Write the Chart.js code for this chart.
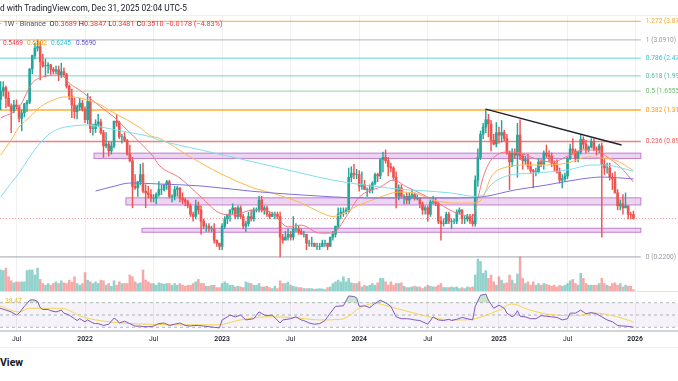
<!DOCTYPE html>
<html><head><meta charset="utf-8">
<script src="https://cdn.jsdelivr.net/npm/chart.js@4.4.1/dist/chart.umd.min.js"></script>
<style>
html,body{margin:0;padding:0;background:#fff;width:678px;height:381px;overflow:hidden;font-family:Roboto,"Liberation Sans",sans-serif;}
.pane{position:absolute;left:0;}
.t{position:absolute;white-space:nowrap;line-height:1;color:#131722;}
.r{color:#f23645;}
.hl{position:absolute;left:0;width:678px;}
</style></head><body>
<div class="pane" style="top:15px"><canvas id="cMain" width="678" height="277"></canvas></div>
<div class="pane" style="top:292px"><canvas id="cRsi" width="678" height="60"></canvas></div>

<div class="hl" style="top:15px;height:1px;background:#eef0f3"></div>
<div class="hl" style="top:291px;height:1px;background:#e0e3eb"></div>
<div class="hl" style="top:330px;height:2px;background:#d1d4dc"></div>
<div class="hl" style="top:347px;height:1px;background:#eef0f3"></div>

<div class="t" style="left:0;top:3.6px;font-size:8.3px">d with TradingView.com, Dec 31, 2025 02:04 UTC-5</div>
<div class="t" style="left:0;top:20.3px;font-size:7.3px"><span style="color:#50535e">· 1W · Binance</span>&nbsp; O<span class="r">0.3689</span> H<span class="r">0.3847</span> L<span class="r">0.3481</span> C<span class="r">0.3510</span> <span class="r">−0.0178 (−4.83%)</span></div>
<div class="t" style="left:3px;top:39.7px;font-size:6.5px;color:#f23645">0.5469</div>
<div class="t" style="left:27px;top:39.7px;font-size:6.5px;color:#ff9800">0.6302</div>
<div class="t" style="left:51px;top:39.7px;font-size:6.5px;color:#22c5d9">0.6245</div>
<div class="t" style="left:76px;top:39.7px;font-size:6.5px;color:#5d4fe0">0.5690</div>
<div class="t" style="left:5px;top:297.6px;font-size:6.7px;color:#f0c020">38.47</div>
<div class="t" style="left:0;top:358px;font-size:10.5px;font-weight:bold">View</div>

<script>
// ---------- time axis ----------
const tickPos    = [7, 33, 59, 85, 111, 137, 163, 190, 216, 241.6];
const tickLabels = ['Jul','2022','Jul','2023','Jul','2024','Jul','2025','Jul','2026'];

// ---------- weekly candles (ADA, 1W) ----------
const open = [2.05,1.50,1.66,1.73,1.52,1.38,1.30,1.40,1.37,1.19,
1.27,1.42,1.45,2.17,2.56,2.80,2.85,2.37,2.25,2.26,
2.28,2.16,2.11,2.15,2.02,2.10,2.03,1.76,1.56,1.40,
1.29,1.37,1.43,1.33,1.17,1.46,1.05,1.05,1.11,1.14,
1.00,0.85,0.87,0.80,0.85,1.15,1.13,0.95,0.95,0.91,
0.77,0.71,0.52,0.51,0.55,0.60,0.49,0.48,0.47,0.45,
0.45,0.47,0.50,0.50,0.53,0.55,0.46,0.46,0.50,0.51,
0.45,0.44,0.43,0.41,0.37,0.36,0.41,0.39,0.34,0.32,
0.32,0.31,0.31,0.27,0.26,0.25,0.32,0.35,0.37,0.39,
0.40,0.36,0.40,0.36,0.32,0.33,0.36,0.35,0.39,0.39,
0.44,0.39,0.40,0.37,0.36,0.37,0.37,0.36,0.28,0.27,
0.28,0.29,0.28,0.31,0.31,0.30,0.29,0.29,0.26,0.26,
0.26,0.25,0.25,0.25,0.26,0.26,0.25,0.28,0.29,0.32,
0.37,0.38,0.38,0.39,0.58,0.61,0.60,0.60,0.52,0.53,
0.50,0.50,0.50,0.54,0.60,0.59,0.72,0.74,0.71,0.66,
0.65,0.58,0.46,0.51,0.46,0.46,0.44,0.46,0.47,0.45,
0.45,0.42,0.39,0.40,0.37,0.43,0.43,0.42,0.34,0.33,
0.33,0.37,0.34,0.34,0.34,0.38,0.39,0.35,0.35,0.36,
0.34,0.33,0.56,0.74,0.98,1.07,1.17,1.11,0.91,0.87,
1.00,0.97,1.00,0.93,0.78,0.70,0.78,0.76,0.97,0.75,
0.71,0.72,0.66,0.63,0.62,0.62,0.70,0.68,0.78,0.76,
0.75,0.69,0.67,0.62,0.56,0.57,0.59,0.73,0.82,0.80,
0.73,0.79,0.92,0.87,0.81,0.84,0.90,0.82,0.81,0.85,
0.68,0.65,0.65,0.58,0.57,0.48,0.41,0.42,0.40,0.41,
0.37,0.3689];
const high = [2.20,1.86,1.86,1.76,1.64,1.42,1.48,1.49,1.40,1.32,
1.43,1.48,2.18,2.57,2.97,3.09,3.03,2.60,2.45,2.35,
2.30,2.21,2.25,2.25,2.33,2.20,2.06,1.79,1.70,1.52,
1.40,1.52,1.48,1.37,1.61,1.55,1.11,1.17,1.25,1.18,
1.03,1.00,0.90,0.89,1.15,1.25,1.15,0.98,1.00,0.92,
0.86,0.74,0.60,0.55,0.68,0.69,0.53,0.52,0.50,0.47,
0.48,0.55,0.53,0.53,0.56,0.56,0.47,0.52,0.52,0.51,
0.48,0.45,0.44,0.42,0.38,0.44,0.43,0.41,0.35,0.33,
0.33,0.32,0.33,0.27,0.26,0.33,0.36,0.37,0.39,0.42,
0.40,0.41,0.41,0.37,0.34,0.38,0.39,0.40,0.40,0.46,
0.46,0.41,0.41,0.38,0.38,0.38,0.38,0.38,0.29,0.30,
0.31,0.30,0.36,0.33,0.32,0.31,0.30,0.29,0.27,0.28,
0.26,0.26,0.26,0.27,0.27,0.26,0.28,0.30,0.32,0.40,
0.40,0.40,0.40,0.65,0.66,0.68,0.64,0.63,0.62,0.56,
0.51,0.53,0.55,0.61,0.61,0.73,0.79,0.81,0.74,0.69,
0.66,0.62,0.53,0.53,0.47,0.48,0.48,0.50,0.48,0.47,
0.45,0.43,0.41,0.41,0.44,0.46,0.45,0.43,0.36,0.35,
0.38,0.38,0.35,0.35,0.39,0.40,0.39,0.36,0.37,0.37,
0.37,0.59,0.82,1.02,1.12,1.33,1.25,1.16,0.98,1.13,
1.07,1.16,1.03,0.98,0.80,0.82,0.82,1.12,1.17,0.77,
0.75,0.77,0.70,0.64,0.65,0.73,0.72,0.80,0.86,0.80,
0.78,0.71,0.72,0.65,0.60,0.61,0.74,0.87,0.93,0.82,
0.80,0.98,0.95,0.91,0.85,0.93,0.93,0.84,0.87,0.88,
0.72,0.69,0.69,0.61,0.62,0.50,0.44,0.47,0.48,0.41,
0.38,0.3847];
const low = [1.33,1.32,1.56,1.35,1.38,1.00,1.27,1.33,1.14,1.02,
1.21,1.29,1.42,2.05,2.45,2.70,1.90,2.22,1.97,2.06,
2.03,2.05,2.05,1.88,1.95,1.98,1.72,1.50,1.20,1.19,
1.18,1.31,1.30,1.13,1.11,1.00,0.97,1.00,1.08,0.98,
0.74,0.83,0.75,0.77,0.83,1.08,0.93,0.88,0.90,0.76,
0.70,0.40,0.50,0.46,0.53,0.48,0.40,0.45,0.43,0.43,
0.42,0.46,0.47,0.49,0.50,0.45,0.43,0.44,0.46,0.43,
0.42,0.41,0.40,0.36,0.34,0.35,0.37,0.29,0.31,0.30,
0.30,0.30,0.26,0.25,0.24,0.24,0.31,0.33,0.34,0.37,
0.35,0.35,0.35,0.31,0.30,0.32,0.34,0.34,0.38,0.38,
0.38,0.37,0.36,0.35,0.36,0.35,0.35,0.22,0.26,0.27,
0.27,0.27,0.27,0.30,0.29,0.29,0.28,0.24,0.25,0.25,
0.25,0.24,0.24,0.25,0.25,0.24,0.25,0.27,0.28,0.31,
0.35,0.36,0.37,0.38,0.55,0.57,0.57,0.49,0.50,0.50,
0.46,0.48,0.48,0.53,0.55,0.57,0.62,0.69,0.59,0.62,
0.56,0.40,0.44,0.46,0.42,0.42,0.42,0.45,0.44,0.44,
0.40,0.37,0.37,0.34,0.36,0.42,0.41,0.33,0.27,0.32,
0.33,0.33,0.31,0.33,0.33,0.37,0.33,0.33,0.34,0.33,
0.32,0.32,0.52,0.72,0.93,1.00,0.95,0.80,0.86,0.84,
0.88,0.89,0.90,0.77,0.50,0.66,0.73,0.58,0.72,0.64,
0.68,0.64,0.61,0.51,0.59,0.61,0.66,0.64,0.74,0.70,
0.66,0.63,0.61,0.54,0.51,0.55,0.57,0.72,0.77,0.70,
0.70,0.77,0.82,0.78,0.79,0.83,0.80,0.76,0.78,0.28,
0.60,0.61,0.56,0.50,0.48,0.39,0.39,0.37,0.40,0.35,
0.35,0.3481];
const close = [1.50,1.66,1.73,1.52,1.38,1.30,1.40,1.37,1.19,1.27,
1.42,1.45,2.17,2.56,2.80,2.85,2.37,2.25,2.26,2.28,
2.16,2.11,2.15,2.02,2.10,2.03,1.76,1.56,1.40,1.29,
1.37,1.43,1.33,1.17,1.46,1.05,1.05,1.11,1.14,1.00,
0.85,0.87,0.80,0.85,1.15,1.13,0.95,0.95,0.91,0.77,
0.71,0.52,0.51,0.55,0.60,0.49,0.48,0.47,0.45,0.45,
0.47,0.50,0.50,0.53,0.55,0.46,0.46,0.50,0.51,0.45,
0.44,0.43,0.41,0.37,0.36,0.41,0.39,0.34,0.32,0.32,
0.31,0.31,0.27,0.26,0.25,0.32,0.35,0.37,0.39,0.40,
0.36,0.40,0.36,0.32,0.33,0.36,0.35,0.39,0.39,0.44,
0.39,0.40,0.37,0.36,0.37,0.37,0.36,0.28,0.27,0.28,
0.29,0.28,0.31,0.31,0.30,0.29,0.29,0.26,0.26,0.26,
0.25,0.25,0.25,0.26,0.26,0.25,0.28,0.29,0.32,0.37,
0.38,0.38,0.39,0.58,0.61,0.60,0.60,0.52,0.53,0.50,
0.50,0.50,0.54,0.60,0.59,0.72,0.74,0.71,0.66,0.65,
0.58,0.46,0.51,0.46,0.46,0.44,0.46,0.47,0.45,0.45,
0.42,0.39,0.40,0.37,0.43,0.43,0.42,0.34,0.33,0.33,
0.37,0.34,0.34,0.34,0.38,0.39,0.35,0.35,0.36,0.34,
0.33,0.56,0.74,0.98,1.07,1.17,1.11,0.91,0.87,1.00,
0.97,1.00,0.93,0.78,0.70,0.78,0.76,0.97,0.75,0.71,
0.72,0.66,0.63,0.62,0.62,0.70,0.68,0.78,0.76,0.75,
0.69,0.67,0.62,0.56,0.57,0.59,0.73,0.82,0.80,0.73,
0.79,0.92,0.87,0.81,0.84,0.90,0.82,0.81,0.85,0.68,
0.65,0.65,0.58,0.57,0.48,0.41,0.42,0.40,0.41,0.37,
0.3689,0.3510];
const volume = [75,65,63,70,45,33,27,30,29,30,
30,63,65,65,50,70,37,25,20,25,
20,25,30,25,33,27,25,35,29,45,
25,20,25,57,35,30,25,30,25,35,
33,20,25,17,33,20,30,25,25,25,
50,45,30,25,27,65,35,30,25,25,
20,27,25,23,25,25,20,25,20,25,
20,17,20,20,25,30,37,25,25,17,
17,20,20,13,13,25,30,25,20,20,
15,17,15,13,30,27,25,20,20,25,
15,15,17,13,10,17,10,33,25,25,
29,20,17,15,13,13,10,10,10,10,
8,9,10,9,7,13,15,25,30,35,
30,45,30,40,27,25,25,30,15,20,
17,20,25,20,27,40,40,30,20,30,
20,25,25,27,17,13,13,15,17,15,
15,10,15,20,17,15,15,20,25,13,
13,13,15,13,15,10,13,10,15,13,
15,50,97,90,55,63,40,50,30,20,
45,35,25,27,50,35,25,53,103,40,
25,30,20,30,20,25,20,25,23,20,
17,20,15,20,17,20,25,33,37,25,
20,55,40,25,20,20,20,20,25,40,
25,20,17,25,27,20,25,15,20,17,
17,7];

// ---------- moving averages [bar, price] ----------
const ema20 = [[1,1.195],[8,1.366],[13,1.83],[17,1.969],[22,2.017],[25,1.969],[27,1.83],[32,1.64],[39,1.366],[44,1.209],[49,1.032],[54,0.881],[59,0.743],[61,0.674],[69,0.575],[77,0.456],[84,0.376],[89,0.367],[97,0.39],[104,0.376],[110,0.317],[115,0.324],[122,0.294],[127,0.294],[132,0.358],[137,0.456],[145,0.516],[150,0.561],[155,0.516],[160,0.479],[165,0.44],[173,0.38],[180,0.36],[182,0.45],[184,0.58],[186,0.68],[188,0.74],[193,0.79],[198,0.78],[203,0.734],[210,0.699],[217,0.761],[222,0.809],[227,0.809],[231,0.743],[236,0.658],[241,0.548]];
const ema50 = [[1,0.761],[5,0.914],[8,1.071],[12,1.209],[16,1.366],[21,1.488],[25,1.543],[28,1.543],[34,1.488],[39,1.40],[44,1.27],[49,1.166],[54,1.058],[58,0.96],[61,0.936],[73,0.743],[84,0.611],[97,0.509],[104,0.479],[115,0.424],[122,0.38],[127,0.36],[137,0.414],[145,0.456],[152,0.485],[158,0.479],[165,0.44],[173,0.424],[181,0.424],[184,0.456],[187,0.582],[193,0.658],[200,0.674],[208,0.674],[216,0.691],[224,0.743],[229,0.734],[234,0.716],[241,0.63]];
const ema100 = [[1,0.456],[5,0.541],[8,0.611],[12,0.743],[16,0.881],[20,0.995],[24,1.058],[28,1.084],[34,1.097],[39,1.071],[45,1.032],[51,0.995],[58,0.948],[61,0.914],[77,0.809],[102,0.674],[127,0.561],[148,0.509],[172,0.479],[181,0.46],[184,0.47],[187,0.53],[193,0.59],[203,0.611],[216,0.634],[225,0.674],[230,0.674],[241,0.625]];
const ma200 = [[37,0.491],[44,0.52],[50,0.541],[61,0.535],[77,0.522],[96,0.49],[115,0.468],[140,0.451],[172,0.451],[183,0.456],[196,0.497],[208,0.528],[221,0.568],[229,0.582],[241,0.569]];

// ---------- RSI [bar, value] ----------
const rsi = [[0,62],[3,58],[5,55],[7,50],[8,53],[10,64],[12,74],[13,75],[14,74],[15,72],[16,62],[17,59],[19,59],[20,57],[22,55],[24,58],[25,53],[27,50],[29,44],[30,41],[31,44],[33,39],[34,42],[36,37],[37,36],[38,36],[40,33],[42,35],[44,45],[45,42],[46,37],[48,40],[50,36],[52,32],[54,32],[55,31],[57,31],[59,32],[61,36],[63,37],[65,33],[67,35],[69,37],[71,33],[73,32],[74,33],[76,33],[78,32],[80,31],[82,30],[84,29],[85,42],[87,47],[88,50],[90,47],[92,50],[94,42],[97,44],[99,55],[101,50],[102,49],[104,50],[107,37],[108,42],[111,44],[113,47],[115,42],[116,41],[118,37],[120,35],[122,36],[124,41],[126,53],[128,64],[131,65],[133,81],[135,80],[136,78],[137,64],[139,65],[141,62],[143,69],[145,74],[147,70],[149,64],[151,47],[153,44],[155,44],[157,43],[158,42],[160,41],[162,37],[163,35],[165,47],[167,42],[169,41],[171,43],[172,41],[174,43],[176,46],[178,44],[180,42],[181,64],[183,82],[185,84],[186,74],[188,61],[190,66],[192,61],[193,53],[195,47],[196,50],[197,57],[198,48],[200,47],[202,44],[204,44],[206,49],[208,48],[210,47],[212,46],[214,42],[216,44],[217,53],[219,53],[221,58],[223,52],[225,54],[227,52],[229,47],[231,42],[233,39],[235,33],[237,32],[238,32],[240,31],[241,30]];
const rsiMa = [[0,66],[8,55],[12,61],[24,61],[32,47],[42,39],[57,35],[76,34],[83,34],[92,42],[102,47],[112,46],[122,42],[130,43],[138,63],[143,69],[149,63],[158,53],[167,44],[176,42],[181,44],[190,58],[195,68],[201,59],[209,51],[219,49],[227,53],[232,50],[237,44.5],[241,38.47]];

// ---------- drawings ----------
const fibLevels = [1.272, 1, 0.786, 0.618, 0.5, 0.382, 0.236, 0];
const fibPrices = [3.8719, 3.0910, 2.4767, 1.9943, 1.6555, 1.3167, 0.8976, 0.2200];
const zoneStart  = [36.4, 48.5, 54.6];
const zoneTop    = [0.779, 0.452, 0.312];
const zoneBottom = [0.730, 0.414, 0.297];
const trendLine  = [[185, 1.33], [236.5, 0.86]];

// ---------- view / style constants ----------
const X_MIN = 0.758, X_MAX = 257.9, FIB_END = 243.8;
const P_MIN = 0.1435, P_MAX = 4.189, VOL_MAX = 815;
const RSI_MIN = 24, RSI_MAX = 87.4;
const UP = '#26a69a', DOWN = '#ef5350';
const GRID = 'rgba(42,46,57,0.07)';
const fibLineColors  = ['rgba(255,167,38,0.75)','rgba(150,153,163,0.6)','rgba(77,208,225,0.7)','rgba(77,182,172,0.55)','rgba(102,187,106,0.55)','rgba(255,152,0,0.8)','rgba(239,83,80,0.75)','rgba(150,153,163,0.7)'];
const fibLabelColors = ['#f5a623','#9598a1','#26c6da','#4db6ac','#66bb6a','#ff9800','#ef5350','#9598a1'];

Chart.defaults.font.family = 'Roboto, "Liberation Sans", sans-serif';

const isUp = close.map((c, i) => c >= open[i]);
const pts = arr => arr.map(([x, y]) => ({x, y}));

const xTicks = {
  type: 'linear', min: X_MIN, max: X_MAX, offset: false,
  grid: {color: GRID, drawTicks: false, offset: false, lineWidth: 1},
  border: {display: false},
  afterBuildTicks: s => { s.ticks = tickPos.map(v => ({value: v})); }
};

const mainOverlay = {
  id: 'mainOverlay',
  beforeDatasetsDraw(chart) {
    const {ctx, scales: {x, y}} = chart;
    ctx.save();
    zoneStart.forEach((s, k) => {
      const x1 = x.getPixelForValue(s), x2 = x.getPixelForValue(FIB_END);
      const y1 = y.getPixelForValue(zoneTop[k]), y2 = y.getPixelForValue(zoneBottom[k]);
      ctx.fillStyle = 'rgba(186,104,200,0.28)';
      ctx.fillRect(x1, y1, x2 - x1, y2 - y1);
      ctx.strokeStyle = 'rgba(156,39,176,0.55)';
      ctx.lineWidth = 1;
      ctx.strokeRect(x1, y1, x2 - x1, y2 - y1);
    });
    ctx.restore();
  },
  afterDatasetsDraw(chart) {
    const {ctx, scales: {x, y}} = chart;
    ctx.save();
    ctx.font = '6.6px Roboto, "Liberation Sans", sans-serif';
    ctx.textBaseline = 'middle';
    fibLevels.forEach((lv, k) => {
      ctx.fillStyle = fibLabelColors[k];
      ctx.fillText(lv + ' (' + fibPrices[k].toFixed(4) + ')', x.getPixelForValue(FIB_END) + 5, y.getPixelForValue(fibPrices[k]));
    });
    ctx.restore();
  }
};

const lastPrice = close[close.length - 1];
const fibSets = fibPrices.map((p, k) => ({
  type: 'line', data: [{x: X_MIN, y: p}, {x: FIB_END, y: p}],
  borderColor: fibLineColors[k], borderWidth: 1.3, pointRadius: 0, yAxisID: 'y', order: 20
}));
const maLine = (data, color) => ({
  type: 'line', data: pts(data), borderColor: color, borderWidth: 1, pointRadius: 0,
  cubicInterpolationMode: 'monotone', yAxisID: 'y', order: 3
});

new Chart(document.getElementById('cMain'), {
  type: 'bar',
  data: {datasets: [
    ...fibSets,
    {type: 'line', data: [{x: X_MIN, y: lastPrice}, {x: X_MAX, y: lastPrice}], borderColor: 'rgba(242,54,69,0.55)', borderWidth: 1, borderDash: [1, 2], pointRadius: 0, yAxisID: 'y', order: 19},
    {type: 'bar', data: volume.map((v, i) => ({x: i, y: v})), yAxisID: 'yv', grouped: false, barThickness: 1.9,
     backgroundColor: isUp.map(u => u ? 'rgba(38,166,154,0.5)' : 'rgba(239,83,80,0.5)'), order: 15},
    {type: 'bar', data: close.map((c, i) => ({x: i, y: [low[i], high[i]]})), yAxisID: 'y', grouped: false, barThickness: 0.8,
     backgroundColor: isUp.map(u => u ? UP : DOWN), order: 6},
    {type: 'bar', data: close.map((c, i) => ({x: i, y: [open[i], c]})), yAxisID: 'y', grouped: false, barThickness: 2,
     backgroundColor: isUp.map(u => u ? UP : DOWN), order: 5},
    maLine(ma200, '#7e70dc'),
    maLine(ema100, '#80deea'),
    maLine(ema50, '#ffb74d'),
    maLine(ema20, '#f4767f'),
    {type: 'line', data: pts(trendLine), borderColor: '#1e222d', borderWidth: 1.4, pointRadius: 0, yAxisID: 'y', order: 1}
  ]},
  options: {
    responsive: false, animation: false, events: [],
    layout: {padding: 0},
    plugins: {legend: {display: false}, tooltip: {enabled: false}},
    scales: {
      x: Object.assign({}, xTicks, {ticks: {display: false}, afterFit: s => { s.height = 0; }}),
      y: {type: 'logarithmic', min: P_MIN, max: P_MAX, display: false},
      yv: {type: 'linear', min: 0, max: VOL_MAX, display: false}
    }
  },
  plugins: [mainOverlay]
});

const rsiOverlay = {
  id: 'rsiOverlay',
  beforeDatasetsDraw(chart) {
    const {ctx, chartArea: a, scales: {y}} = chart;
    ctx.save();
    const y70 = y.getPixelForValue(70), y30 = y.getPixelForValue(30), y50 = y.getPixelForValue(50);
    ctx.fillStyle = 'rgba(126,87,194,0.08)';
    ctx.fillRect(a.left, y70, a.right - a.left, y30 - y70);
    ctx.strokeStyle = 'rgba(120,123,134,0.55)';
    ctx.lineWidth = 1;
    ctx.setLineDash([3, 3]);
    [y70, y50, y30].forEach(py => { ctx.beginPath(); ctx.moveTo(a.left, py); ctx.lineTo(a.right, py); ctx.stroke(); });
    ctx.restore();
  }
};

new Chart(document.getElementById('cRsi'), {
  type: 'line',
  data: {datasets: [
    {data: pts(rsiMa), borderColor: '#f5d54a', borderWidth: 1, pointRadius: 0, cubicInterpolationMode: 'monotone', order: 2},
    {data: pts(rsi), borderColor: '#7e57c2', borderWidth: 1, pointRadius: 0, order: 1,
     fill: {target: {value: 70}, above: 'rgba(76,175,80,0.3)', below: 'rgba(0,0,0,0)'}}
  ]},
  options: {
    responsive: false, animation: false, events: [],
    layout: {padding: 0},
    plugins: {legend: {display: false}, tooltip: {enabled: false}},
    scales: {
      x: Object.assign({}, xTicks, {
        ticks: {
          autoSkip: false, maxRotation: 0, padding: 4, color: '#131722',
          font: ctx => ({size: 6.8, weight: /^\d/.test(tickLabels[ctx.index] || '') ? '600' : '400'}),
          callback: (v, i) => tickLabels[i]
        },
        afterFit: s => { s.height = 21; }
      }),
      y: {min: RSI_MIN, max: RSI_MAX, display: false}
    }
  },
  plugins: [rsiOverlay]
});
</script>
</body></html>
